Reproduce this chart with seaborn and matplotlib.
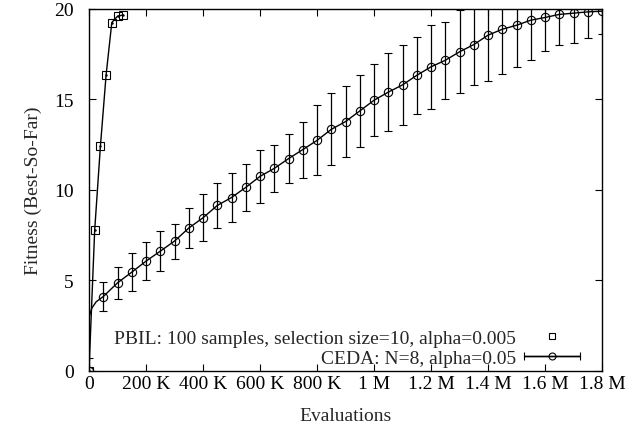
import matplotlib
matplotlib.use("Agg")
import matplotlib.pyplot as plt
import numpy as np
import pandas as pd
import seaborn as sns
from matplotlib.lines import Line2D
from matplotlib.legend_handler import HandlerErrorbar

# PBIL run (evaluations in thousands)
pbil_evals_k = [0, 20, 40, 60, 80, 100, 120]
pbil_fitness = [0, 7.78, 12.4, 16.35, 19.25, 19.6, 19.67]

# CEDA run (evaluations in thousands), mean and error bar half-width
ceda_evals_k = [0, 50, 100, 150, 200, 250, 300, 350, 400, 450, 500, 550, 600,
                650, 700, 750, 800, 850, 900, 950, 1000, 1050, 1100, 1150, 1200,
                1250, 1300, 1350, 1400, 1450, 1500, 1550, 1600, 1650, 1700, 1750, 1800]
ceda_fitness = [0, 4.09, 4.85, 5.44, 6.05, 6.6, 7.16, 7.88, 8.45, 9.13, 9.57, 10.13,
                10.74, 11.18, 11.72, 12.22, 12.73, 13.34, 13.77, 14.36, 14.95, 15.4,
                15.8, 16.33, 16.8, 17.16, 17.63, 18.03, 18.55, 18.88, 19.1, 19.38,
                19.53, 19.7, 19.77, 19.84, 19.88]
ceda_err = [0.7, 0.8, 0.88, 1.04, 1.05, 1.11, 0.97, 1.1, 1.3, 1.25, 1.38, 1.32, 1.47,
            1.29, 1.34, 1.55, 1.94, 1.99, 1.98, 1.99, 1.98, 2.15, 2.2, 2.14, 2.33,
            2.12, 2.3, 2.25, 2.51, 2.45, 2.32, 2.18, 1.87, 1.67, 1.63, 1.42, 1.29]
# early part of the CEDA curve (line only, no markers)
ceda_start_k = [0, 1, 10, 25]
ceda_start_fitness = [0, 3.0, 3.45, 3.8]

x_ticks_k = [0, 200, 400, 600, 800, 1000, 1200, 1400, 1600, 1800]
x_tick_labels = ['0', '200 K', '400 K', '600 K', '800 K', '1 M', '1.2 M', '1.4 M', '1.6 M', '1.8 M']
y_ticks = [0, 5, 10, 15, 20]

pbil_label = 'PBIL: 100 samples, selection size=10, alpha=0.005'
ceda_label = 'CEDA: N=8, alpha=0.05'

FS = 14

sns.set_style('ticks')
plt.rcParams['font.family'] = ['Liberation Serif', 'DejaVu Serif']
plt.rcParams['font.size'] = FS

pbil = pd.DataFrame({'evals': np.array(pbil_evals_k) * 1000, 'fitness': pbil_fitness})
ceda = pd.DataFrame({'evals': np.array(ceda_evals_k) * 1000, 'fitness': ceda_fitness, 'err': ceda_err})
ceda_line = pd.concat([pd.DataFrame({'evals': np.array(ceda_start_k) * 1000,
                                     'fitness': ceda_start_fitness}),
                       ceda[['evals', 'fitness']].iloc[1:]], ignore_index=True)

fig = plt.figure(figsize=(6.44, 4.35), dpi=100)
ax = fig.add_axes([89 / 644, 1 - 371.5 / 435, (602 - 89) / 644, (371.5 - 10) / 435])

# PBIL
sns.lineplot(data=pbil, x='evals', y='fitness', ax=ax, color='k', lw=1.0)
ax.plot(pbil['evals'], pbil['fitness'], ls='none', marker='s', ms=5.5, mfc='none',
        mec='k', mew=0.8)
ax.plot(pbil['evals'], pbil['fitness'], ls='none', marker='.', ms=1.5, color='k')

# CEDA
sns.lineplot(data=ceda_line, x='evals', y='fitness', ax=ax, color='k', lw=1.0, sort=True)
ax.errorbar(ceda['evals'], ceda['fitness'], yerr=ceda['err'], fmt='o', ms=6,
            mfc='none', mec='k', mew=0.8, ecolor='k', elinewidth=0.9, capsize=3,
            capthick=0.9)

ax.set_xlim(0, 1.8e6)
ax.set_ylim(0, 20)
ax.set_xticks(np.array(x_ticks_k) * 1000)
ax.set_xticklabels(x_tick_labels)
ax.set_yticks(y_ticks)
ax.tick_params(direction='in', top=True, right=True, length=5, width=0.8,
               labelsize=FS, colors='k')
ax.tick_params(axis='x', pad=3)
ax.tick_params(axis='y', pad=11)
for s in ax.spines.values():
    s.set_linewidth(1.0)
    s.set_color('k')
ax.set_xlabel('Evaluations', fontsize=FS, labelpad=11)
ax.set_ylabel('Fitness (Best-So-Far)', fontsize=FS, labelpad=9)

# legend in gnuplot style
pbil_handle = Line2D([], [], ls='none', marker='s', ms=4, mfc='none', mec='k', mew=0.8)
ceda_handle = ax.errorbar([np.nan], [np.nan], xerr=[1], fmt='-o', ms=5, mfc='none',
                          mec='k', mew=0.8, color='k', lw=1, capsize=3)
ax.legend([pbil_handle, ceda_handle], [pbil_label, ceda_label], loc='lower right',
          bbox_to_anchor=(0.957, 0.011), frameon=False, markerfirst=False,
          borderpad=0, borderaxespad=0,
          handlelength=2.9, handletextpad=0.4, labelspacing=0.1, fontsize=FS,
          handler_map={ceda_handle: HandlerErrorbar(xerr_size=1.45)})

fig.savefig('out.png', dpi=100)
